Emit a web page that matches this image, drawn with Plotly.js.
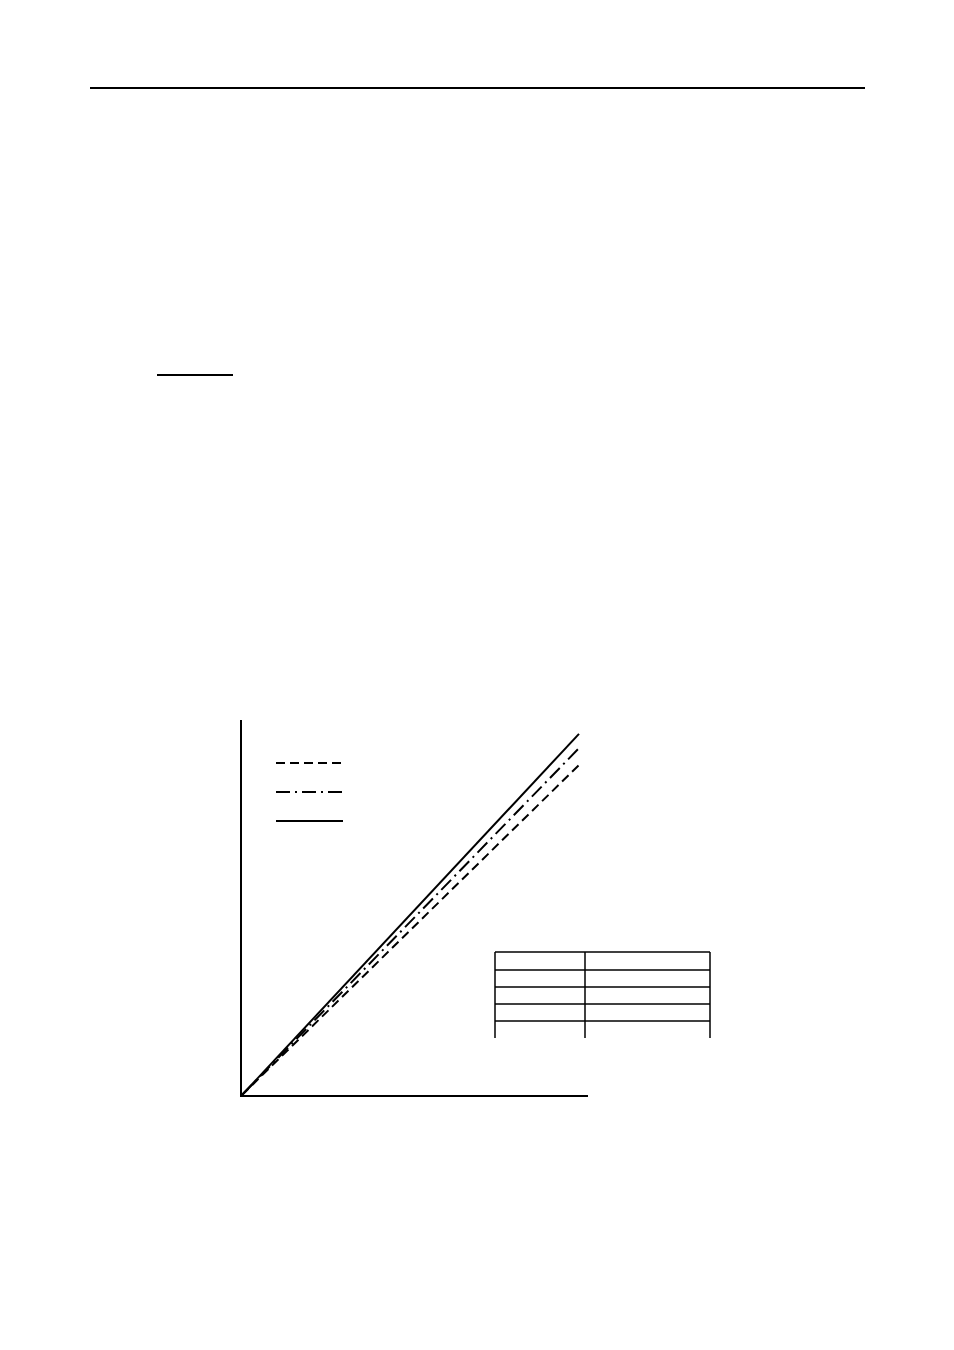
<!DOCTYPE html>
<html>
<head>
<meta charset="utf-8">
<script src="https://cdn.plot.ly/plotly-3.0.1.min.js"></script>
<style>
  html, body { margin: 0; padding: 0; background: #fff; }
  #graph { width: 954px; height: 1350px; }
</style>
</head>
<body>
<div id="graph"></div>
<script>
// three straight curves starting at the origin, no tick labels in the original
const xData = [0, 97.4];
const solidY = [0, 96.3];
const dashDotY = [0, 92.5];
const dashedY = [0, 88.0];

const W = 954, H = 1350;
const px = x => x / W;
const py = y => 1 - y / H;

function hline(x0, x1, y, dash) {
    return {
        type: 'line', xref: 'paper', yref: 'paper',
        x0: px(x0), x1: px(x1), y0: py(y), y1: py(y),
        line: { color: '#000', width: 2, dash: dash || 'solid' }
    };
}
function vline(x, y0, y1) {
    return {
        type: 'line', xref: 'paper', yref: 'paper',
        x0: px(x), x1: px(x), y0: py(y0), y1: py(y1),
        line: { color: '#000', width: 1.5 }
    };
}

const dashedStyle = '9px,5px';
const dashDotStyle = '14px,5px,2px,5px';

let traces = [
    { x: xData, y: dashedY, mode: 'lines', line: { color: '#000', width: 2, dash: dashedStyle } },
    { x: xData, y: dashDotY, mode: 'lines', line: { color: '#000', width: 2, dash: dashDotStyle } },
    { x: xData, y: solidY, mode: 'lines', line: { color: '#000', width: 2 } }
];

let shapes = [
    hline(90, 865, 88),          // page header rule
    hline(157, 233, 375),        // short underline
    // legend samples
    hline(276, 341, 763, dashedStyle),
    hline(276, 343, 792, dashDotStyle),
    hline(276, 343, 821)
];

// empty table
const tableRows = [952, 970, 987, 1004, 1021];
tableRows.forEach(y => {
    let s = hline(495, 710, y);
    s.line.width = 1.5;
    shapes.push(s);
});
[495, 585, 710].forEach(x => shapes.push(vline(x, 952, 1038)));

const layout = {
    width: W,
    height: H,
    margin: { l: 0, r: 0, t: 0, b: 0 },
    paper_bgcolor: '#fff',
    plot_bgcolor: '#fff',
    showlegend: false,
    xaxis: {
        domain: [px(242), px(588)],
        range: [0, 100],
        showline: true, linecolor: '#000', linewidth: 2,
        showgrid: false, zeroline: false, showticklabels: false, ticks: ''
    },
    yaxis: {
        domain: [py(1095), py(720)],
        range: [0, 100],
        showline: true, linecolor: '#000', linewidth: 2,
        showgrid: false, zeroline: false, showticklabels: false, ticks: ''
    },
    shapes: shapes
};

Plotly.newPlot('graph', traces, layout, { staticPlot: true });
</script>
</body>
</html>
